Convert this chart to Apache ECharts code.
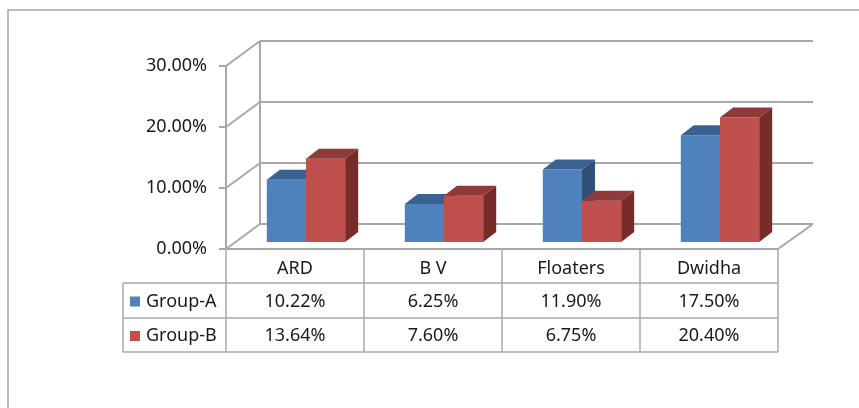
<!DOCTYPE html>
<html><head><meta charset="utf-8">
<script src="https://cdn.jsdelivr.net/npm/echarts@6/dist/echarts.min.js"></script>
<style>html,body{margin:0;padding:0;background:#fff;overflow:hidden}#c{width:859px;height:408px}</style>
</head><body><div id="c"></div>
<script>
const categories = ['ARD', 'B V', 'Floaters', 'Dwidha'];
const seriesNames = ['Group-A', 'Group-B'];
const groupA = [10.22, 6.25, 11.90, 17.50];
const groupB = [13.64, 7.60, 6.75, 20.40];
const yTicks = [0, 10, 20, 30];

const FONT = 'Noto Sans';
const FS = 18;
const TXT = '#1a1a1a';
const GRID = '#a8a8a8';
const DEPTH = [34, -25];      // back wall offset
const BAR_DEPTH = [13, -10];  // bar box depth
const palette = [
  {front: '#4F81BD', top: '#3A6291', side: '#30507A'},
  {front: '#C0504D', top: '#8E3A38', side: '#772C2A'}
];

const chart = echarts.init(document.getElementById('c'), null, {renderer: 'canvas'});

function frameRender(params, api) {
  const cs = params.coordSys;
  const v = api.value(0);
  const y = api.coord([0, v])[1];
  const xl = cs.x, xr = cs.x + cs.width;
  const children = [
    {type: 'line', shape: {x1: xl, y1: y, x2: xl + DEPTH[0], y2: y + DEPTH[1]}, style: {stroke: GRID, lineWidth: 2}},
    {type: 'line', shape: {x1: xl + DEPTH[0], y1: y + DEPTH[1], x2: xr + DEPTH[0] + 1, y2: y + DEPTH[1]}, style: {stroke: GRID, lineWidth: 2}}
  ];
  if (v === 0) {
    const yTop = api.coord([0, yTicks[yTicks.length - 1]])[1];
    children.push({type: 'line', shape: {x1: xr, y1: y, x2: xr + DEPTH[0] + 1, y2: y + DEPTH[1]}, style: {stroke: GRID, lineWidth: 2}});
    children.push({type: 'line', shape: {x1: xl + DEPTH[0], y1: yTop + DEPTH[1], x2: xl + DEPTH[0], y2: y + DEPTH[1]}, style: {stroke: GRID, lineWidth: 2}});
  }
  return {type: 'group', children};
}

function barRender(idx) {
  const c = palette[idx];
  return function (params, api) {
    const ci = api.value(0), v = api.value(1);
    const top = api.coord([ci, v]);
    const base = api.coord([ci, 0]);
    const cw = api.size([1, 0])[0];
    const bw = cw * 0.284;
    const x0 = top[0] - bw + idx * bw, x1 = x0 + bw;
    const yT = top[1], yB = base[1];
    const dx = BAR_DEPTH[0], dy = BAR_DEPTH[1];
    return {type: 'group', children: [
      {type: 'rect', shape: {x: x0, y: yT, width: bw, height: yB - yT}, style: {fill: c.front}},
      {type: 'polygon', shape: {points: [[x0, yT], [x0 + dx, yT + dy], [x1 + dx, yT + dy], [x1, yT]]}, style: {fill: c.top}},
      {type: 'polygon', shape: {points: [[x1, yT], [x1 + dx, yT + dy], [x1 + dx, yB + dy], [x1, yB]]}, style: {fill: c.side}}
    ]};
  };
}

const option = {
  animation: false,
  backgroundColor: '#fff',
  textStyle: {fontFamily: FONT},
  grid: [
    {left: 226, width: 552, top: 66, height: 183, containLabel: false},   // front plane
    {left: 237, width: 552, top: 59, height: 183, containLabel: false}    // bars plane
  ],
  xAxis: [
    {type: 'category', gridIndex: 0, data: categories, boundaryGap: true,
     axisLine: {show: true, lineStyle: {color: GRID, width: 2}},
     axisTick: {show: true, inside: false, length: 34, alignWithLabel: false, lineStyle: {color: GRID, width: 1.5}},
     axisLabel: {show: true, margin: 11, fontSize: FS, color: TXT, fontFamily: FONT},
     splitLine: {show: false}},
    {type: 'category', gridIndex: 1, data: categories, show: false}
  ],
  yAxis: [
    {type: 'value', gridIndex: 0, min: 0, max: 30, interval: 10,
     axisLine: {show: true, lineStyle: {color: GRID, width: 2}},
     axisTick: {show: true, length: 7, lineStyle: {color: GRID, width: 2}},
     axisLabel: {margin: 19, fontSize: FS, color: TXT, fontFamily: FONT, formatter: v => v.toFixed(2) + '%'},
     splitLine: {show: false}},
    {type: 'value', gridIndex: 1, min: 0, max: 30, interval: 10, show: false, splitLine: {show: false}}
  ],
  series: [
    {type: 'custom', name: 'frame', xAxisIndex: 0, yAxisIndex: 0, z: 1,
     data: yTicks.map(v => [v]), encode: {y: 0}, renderItem: frameRender, silent: true},
    {type: 'custom', name: seriesNames[0], xAxisIndex: 1, yAxisIndex: 1, z: 3,
     data: groupA.map((v, i) => [i, v]), encode: {x: 0, y: 1}, renderItem: barRender(0)},
    {type: 'custom', name: seriesNames[1], xAxisIndex: 1, yAxisIndex: 1, z: 4,
     data: groupB.map((v, i) => [i, v]), encode: {x: 0, y: 1}, renderItem: barRender(1)}
  ]
};
chart.setOption(option);

// Data table built from the same arrays, positioned through the axis scale
const colX = categories.map((c, i) => chart.convertToPixel({xAxisIndex: 0}, i));
const colW = colX[1] - colX[0];
const tblLeft = 123, tblRight = colX[colX.length - 1] + colW / 2;
const headerLeft = colX[0] - colW / 2;
const rowTops = [283, 318, 352];
const gfx = [];
gfx.push({type: 'polyline', shape: {points: [[8, 420], [8, 10], [870, 10]]}, style: {fill: null, stroke: '#a6a6a6', lineWidth: 1.5}, z: 0});
rowTops.forEach(y => gfx.push({type: 'line', shape: {x1: tblLeft, y1: y, x2: tblRight, y2: y}, style: {stroke: GRID, lineWidth: 1.5}}));
const vlines = [tblLeft, headerLeft].concat(colX.map(x => x + colW / 2));
vlines.forEach(x => gfx.push({type: 'line', shape: {x1: x, y1: rowTops[0], x2: x, y2: rowTops[2]}, style: {stroke: GRID, lineWidth: 1.5}}));
[groupA, groupB].forEach((arr, r) => {
  const yc = (rowTops[r] + rowTops[r + 1]) / 2 + 1;
  gfx.push({type: 'rect', shape: {x: 130, y: yc - 5, width: 10, height: 10}, style: {fill: palette[r].front}});
  gfx.push({type: 'text', x: 146, y: yc, style: {text: seriesNames[r], font: FS + 'px "' + FONT + '"', fill: TXT, textAlign: 'left', textVerticalAlign: 'middle'}});
  arr.forEach((v, i) => {
    gfx.push({type: 'text', x: colX[i], y: yc, style: {text: v.toFixed(2) + '%', font: FS + 'px "' + FONT + '"', fill: TXT, textAlign: 'center', textVerticalAlign: 'middle'}});
  });
});
chart.setOption({graphic: {elements: gfx}});
</script>
</body></html>
